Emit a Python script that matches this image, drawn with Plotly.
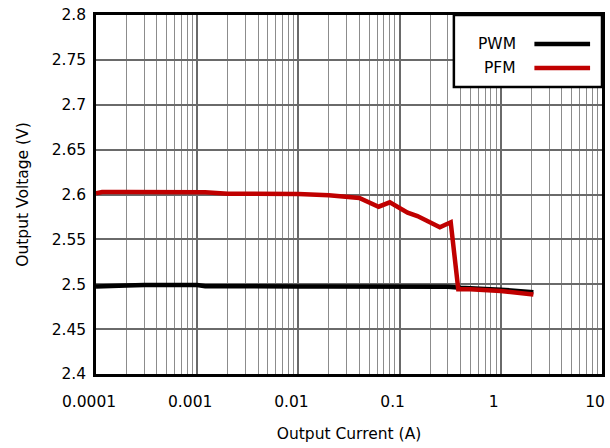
import plotly.graph_objects as go

# Data
pwm_current = [1e-4, 1.5e-4, 2e-4, 3e-4, 5e-4, 1e-3, 1.2e-3, 2e-3, 5e-3, 0.01, 0.02,
               0.05, 0.1, 0.2, 0.3, 0.4, 0.5, 0.7, 1.0, 1.5, 2.1]
pwm_voltage = [2.4975, 2.4975, 2.4985, 2.4992, 2.4992, 2.4992, 2.4978, 2.4975, 2.4975,
               2.4975, 2.4975, 2.4975, 2.4975, 2.4975, 2.4972, 2.4960, 2.4952, 2.4946,
               2.4940, 2.4925, 2.4912]

pfm_current = [1e-4, 1.15e-4, 2e-4, 5e-4, 1e-3, 1.2e-3, 2e-3, 5e-3, 0.01, 0.02, 0.031,
               0.04, 0.062, 0.08, 0.12, 0.15, 0.25, 0.32, 0.38, 0.5, 1.0, 1.5, 2.1]
pfm_voltage = [2.6012, 2.6028, 2.6028, 2.6028, 2.6028, 2.6026, 2.6008, 2.6008, 2.6006,
               2.5992, 2.5970, 2.5962, 2.5864, 2.5913, 2.5797, 2.5760, 2.5635, 2.5690,
               2.4945, 2.4945, 2.4925, 2.4905, 2.4885]

x_tick_vals = [1e-4, 1e-3, 1e-2, 1e-1, 1, 10]
x_tick_text = ["0.0001", "0.001", "0.01", "0.1", "1", "10"]
y_tick_vals = [2.4, 2.45, 2.5, 2.55, 2.6, 2.65, 2.7, 2.75, 2.8]
y_tick_text = ["2.4", "2.45", "2.5", "2.55", "2.6", "2.65", "2.7", "2.75", "2.8"]

series_names = ["PWM", "PFM"]
series_colors = ["#000000", "#c00000"]

FONT = "DejaVu Sans, Liberation Sans, Arial, sans-serif"
FS = 15.5

fig = go.Figure()
fig.add_trace(go.Scatter(x=pwm_current, y=pwm_voltage, mode="lines",
                         line=dict(color=series_colors[0], width=4.5),
                         name=series_names[0], showlegend=False))
fig.add_trace(go.Scatter(x=pfm_current, y=pfm_voltage, mode="lines",
                         line=dict(color=series_colors[1], width=4.5),
                         name=series_names[1], showlegend=False))

fig.update_layout(
    width=610, height=448,
    margin=dict(l=96, r=5, t=15, b=74),
    paper_bgcolor="white", plot_bgcolor="white",
    font=dict(family=FONT, size=FS, color="black"),
    xaxis=dict(
        type="log", range=[-4, 1],
        tickvals=x_tick_vals, ticktext=x_tick_text,
        showgrid=True, gridcolor="#6a6a6a", gridwidth=1.5,
        minor=dict(dtick="D1", showgrid=True, gridcolor="#8c8c8c", gridwidth=1.4, ticks=""),
        showline=True, linecolor="black", linewidth=2.5, mirror=True,
        ticks="", ticklen=0,
        ticklabelshift=-7, ticklabelstandoff=12,
        title=dict(text="Output Current (A)", font=dict(size=FS), standoff=18),
        tickfont=dict(size=FS),
        zeroline=False,
    ),
    yaxis=dict(
        range=[2.4, 2.8],
        tickvals=y_tick_vals, ticktext=y_tick_text,
        showgrid=True, gridcolor="#6a6a6a", gridwidth=1.5,
        showline=True, linecolor="black", linewidth=2.5, mirror=True,
        ticks="", ticklen=0,
        ticklabelstandoff=4,
        title=dict(text="Output Voltage (V)", font=dict(size=FS), standoff=20),
        tickfont=dict(size=FS),
        zeroline=False,
    ),
)

# Custom legend (text on the left, line sample on the right)
lx0, lx1 = (456 - 96) / 509, 1.0
ly1 = 1.0
ly0 = 1 - (87 - 15) / 359
fig.add_shape(type="rect", xref="paper", yref="paper", x0=lx0, x1=lx1, y0=ly0, y1=ly1,
              line=dict(color="black", width=2.5), fillcolor="white", layer="above")
legend_rows_y = [44, 68]
for name, color, py in zip(series_names, series_colors, legend_rows_y):
    yy = 1 - (py - 15) / 359
    fig.add_annotation(xref="paper", yref="paper", x=(521 - 96) / 509, y=yy,
                       text=name, showarrow=False, xanchor="right", yanchor="middle",
                       font=dict(size=FS, family=FONT, color="black"))
    fig.add_shape(type="line", xref="paper", yref="paper",
                  x0=(537 - 96) / 509, x1=(593 - 96) / 509, y0=yy, y1=yy,
                  line=dict(color=color, width=4.5), layer="above")

fig.write_html("out.html")
